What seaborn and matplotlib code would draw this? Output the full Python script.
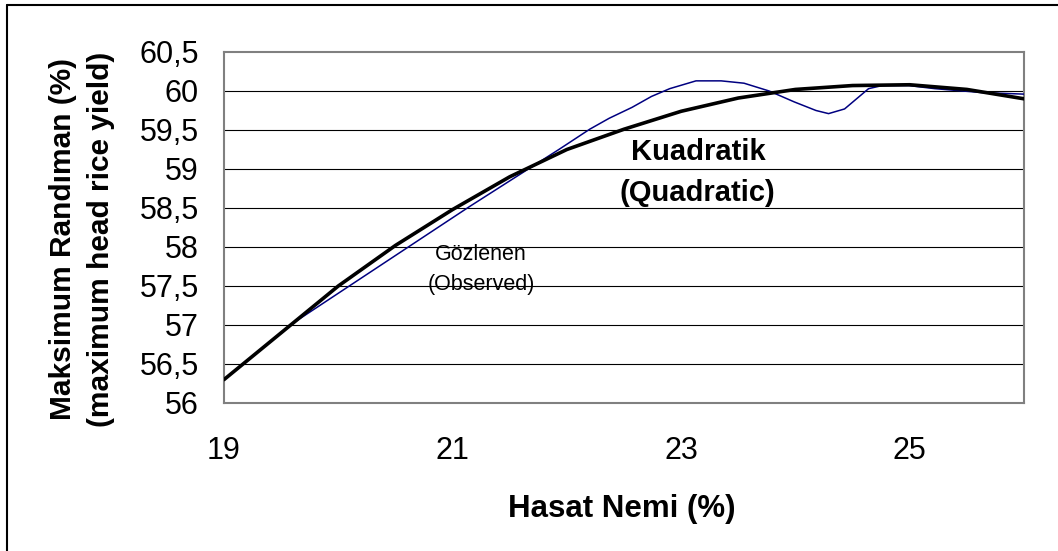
import matplotlib
matplotlib.use("Agg")
import matplotlib.pyplot as plt
from matplotlib.lines import Line2D
from matplotlib.ticker import FuncFormatter
import pandas as pd
import seaborn as sns

# quadratic fit
quad_x = [19, 19.5, 20, 20.5, 21, 21.5, 22, 22.5, 23, 23.5, 24, 24.5, 25, 25.5, 26]
quad_y = [56.30, 56.90, 57.50, 58.02, 58.48, 58.90, 59.25, 59.51, 59.74, 59.91,
          60.02, 60.07, 60.08, 60.02, 59.90]

# observed values
obs_x = [19.59, 21.15, 21.93, 22.20, 22.37, 22.57, 22.74, 22.90, 23.13, 23.35, 23.55,
         23.77, 23.99, 24.18, 24.29, 24.43, 24.64, 24.76, 24.99, 25.22, 25.63, 26.0]
obs_y = [57.01, 58.52, 59.25, 59.51, 59.65, 59.79, 59.93, 60.03, 60.13, 60.13, 60.10,
         60.00, 59.86, 59.75, 59.71, 59.77, 60.03, 60.07, 60.07, 60.03, 59.98, 59.96]

x_ticks = [19, 21, 23, 25]
y_ticks = [56, 56.5, 57, 57.5, 58, 58.5, 59, 59.5, 60, 60.5]

sns.set_style("white")
plt.rcParams['font.family'] = ['Liberation Sans', 'DejaVu Sans']
plt.rcParams['text.color'] = 'black'
plt.rcParams['axes.labelcolor'] = 'black'

fig = plt.figure(figsize=(10.58, 5.51), dpi=100)
ax = fig.add_axes([224 / 1058, 1 - 403 / 551, 800 / 1058, 351 / 551])

for y in y_ticks[1:-1]:
    ax.axhline(y, color='black', lw=0.8, zorder=1)

quad = pd.DataFrame({'x': quad_x, 'y': quad_y})
obs = pd.DataFrame({'x': obs_x, 'y': obs_y})
sns.lineplot(data=obs, x='x', y='y', color='#000080', lw=1.1, estimator=None, ax=ax, zorder=3)
sns.lineplot(data=quad, x='x', y='y', color='black', lw=2.6, estimator=None, ax=ax, zorder=4)

ax.set_xlim(19, 26)
ax.set_ylim(56, 60.5)
ax.set_xticks(x_ticks)
ax.set_yticks(y_ticks)
ax.yaxis.set_major_formatter(FuncFormatter(lambda v, p: ('%g' % v).replace('.', ',')))

for s in ax.spines.values():
    s.set_color('#808080')
    s.set_linewidth(1.5)

ax.tick_params(axis='both', direction='out', length=7, width=1.3, color='#808080',
               labelsize=22, labelcolor='black')
ax.tick_params(axis='x', pad=17)
ax.tick_params(axis='y', pad=11)

ax.set_xlabel('Hasat Nemi (%)', fontsize=22.5, fontweight='bold')
ax.xaxis.set_label_coords(0.4975, -0.258)
ax.set_ylabel('Maksimum Randıman (%)\n(maximum head rice yield)', fontsize=21.5,
              fontweight='bold', linespacing=1.45)
ax.yaxis.set_label_coords(-0.136, 0.467)

ax.text(23.15, 59.22, 'Kuadratik', fontsize=21, fontweight='bold', ha='center', va='center')
ax.text(23.14, 58.69, '(Quadratic)', fontsize=21, fontweight='bold', ha='center', va='center')
ax.text(21.25, 57.9, 'Gözlenen', fontsize=15.5, ha='center', va='center')
ax.text(21.25, 57.52, '(Observed)', fontsize=15.5, ha='center', va='center')

# outer frame, only top and left edges are visible
fig.add_artist(Line2D([7 / 1058, 1], [1 - 5 / 551, 1 - 5 / 551], transform=fig.transFigure,
                      color='black', lw=1.5))
fig.add_artist(Line2D([7 / 1058, 7 / 1058], [0, 1 - 5 / 551], transform=fig.transFigure,
                      color='black', lw=1.5))

fig.savefig('out.png', dpi=100)
